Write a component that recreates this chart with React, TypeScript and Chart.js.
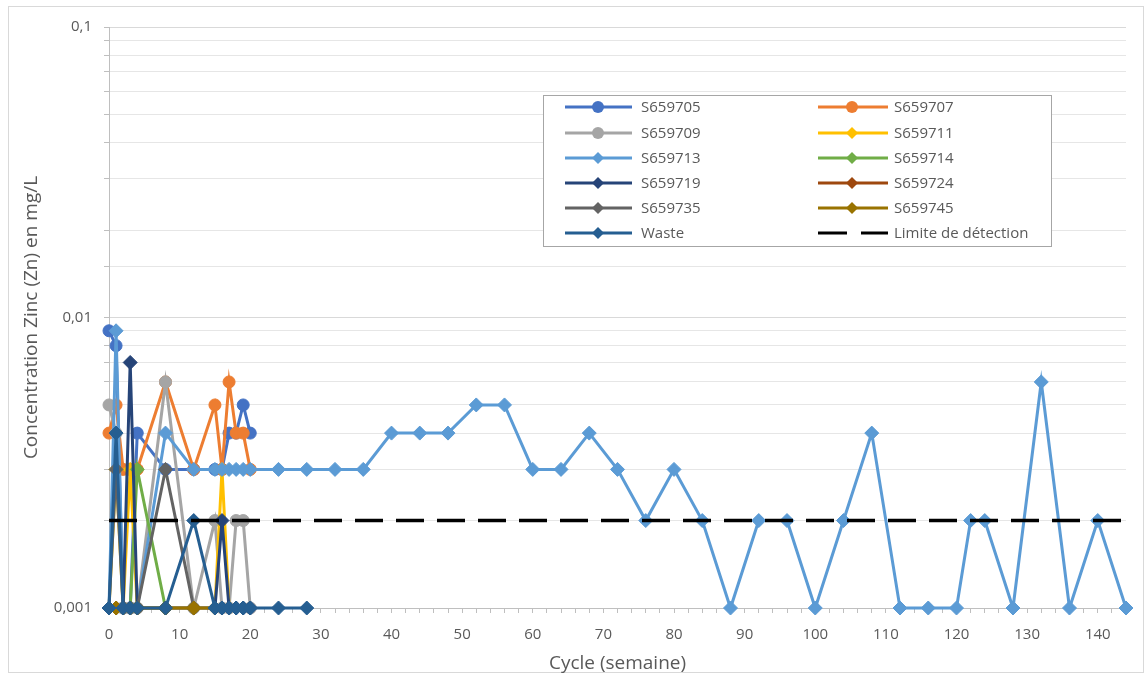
import React, { useEffect, useRef } from 'react';
import { Chart, registerables } from 'chart.js';

Chart.register(...registerables);

// ---- Data (cycle in weeks, Zn concentration in mg/L) ----
const cycles_S659705 = [0, 1, 2, 3, 4, 8, 12, 15, 16, 17, 18, 19, 20];
const zn_S659705 = [0.009, 0.008, 0.001, 0.001, 0.004, 0.003, 0.003, 0.003, 0.003, 0.004, 0.004, 0.005, 0.004];

const cycles_S659707 = [0, 1, 2, 3, 4, 8, 12, 15, 16, 17, 18, 19, 20];
const zn_S659707 = [0.004, 0.005, 0.003, 0.003, 0.003, 0.006, 0.003, 0.005, 0.003, 0.006, 0.004, 0.004, 0.003];

const cycles_S659709 = [0, 1, 2, 3, 4, 8, 12, 15, 16, 17, 18, 19, 20];
const zn_S659709 = [0.005, 0.004, 0.001, 0.001, 0.001, 0.006, 0.001, 0.002, 0.001, 0.001, 0.002, 0.002, 0.001];

const cycles_S659711 = [0, 1, 2, 3, 4, 8, 12, 15, 16, 17];
const zn_S659711 = [0.001, 0.003, 0.001, 0.003, 0.001, 0.001, 0.001, 0.001, 0.003, 0.001];

const cycles_S659713 = [0, 1, 2, 3, 4, 8, 12, 15, 16, 17, 18, 19, 20, 24, 28, 32, 36, 40, 44, 48, 52, 56, 60, 64, 68, 72, 76, 80, 84, 88, 92, 96, 100, 104, 108, 112, 116, 120, 122, 124, 128, 132, 136, 140, 144];
const zn_S659713 = [0.001, 0.009, 0.001, 0.001, 0.001, 0.004, 0.003, 0.003, 0.003, 0.003, 0.003, 0.003, 0.003, 0.003, 0.003, 0.003, 0.003, 0.004, 0.004, 0.004, 0.005, 0.005, 0.003, 0.003, 0.004, 0.003, 0.002, 0.003, 0.002, 0.001, 0.002, 0.002, 0.001, 0.002, 0.004, 0.001, 0.001, 0.001, 0.002, 0.002, 0.001, 0.006, 0.001, 0.002, 0.001];

const cycles_S659714 = [0, 1, 2, 3, 4, 8];
const zn_S659714 = [0.001, 0.001, 0.001, 0.001, 0.003, 0.001];

const cycles_S659719 = [0, 1, 2, 3, 4, 8, 12, 15, 16, 17, 18, 19, 20];
const zn_S659719 = [0.001, 0.001, 0.001, 0.007, 0.001, 0.001, 0.001, 0.001, 0.002, 0.001, 0.001, 0.001, 0.001];

const cycles_S659724 = [0, 1, 2, 3, 4];
const zn_S659724 = [0.001, 0.001, 0.001, 0.001, 0.001];

const cycles_S659735 = [0, 1, 2, 3, 4, 8, 12];
const zn_S659735 = [0.001, 0.003, 0.001, 0.001, 0.001, 0.003, 0.001];

const cycles_S659745 = [0, 1, 2, 3, 4, 8, 12, 15, 16];
const zn_S659745 = [0.001, 0.001, 0.001, 0.001, 0.001, 0.001, 0.001, 0.001, 0.001];

const cycles_Waste = [0, 1, 2, 3, 4, 8, 12, 15, 16, 17, 18, 19, 20, 24, 28];
const zn_Waste = [0.001, 0.004, 0.001, 0.001, 0.001, 0.001, 0.002, 0.001, 0.001, 0.001, 0.001, 0.001, 0.001, 0.001, 0.001];

const cycles_Limite = [0, 144];
const zn_Limite = [0.002, 0.002];

const yTickLabels: Record<string, string> = { '-3': '0,001', '-2': '0,01', '-1': '0,1' };

type SeriesDef = { name: string; xs: number[]; ys: number[]; color: string; marker: 'circle' | 'rectRot' | 'none'; dashed?: boolean };

const series: SeriesDef[] = [
  { name: 'S659705', xs: cycles_S659705, ys: zn_S659705, color: '#4472C4', marker: 'circle' },
  { name: 'S659707', xs: cycles_S659707, ys: zn_S659707, color: '#ED7D31', marker: 'circle' },
  { name: 'S659709', xs: cycles_S659709, ys: zn_S659709, color: '#A5A5A5', marker: 'circle' },
  { name: 'S659711', xs: cycles_S659711, ys: zn_S659711, color: '#FFC000', marker: 'rectRot' },
  { name: 'S659713', xs: cycles_S659713, ys: zn_S659713, color: '#5B9BD5', marker: 'rectRot' },
  { name: 'S659714', xs: cycles_S659714, ys: zn_S659714, color: '#70AD47', marker: 'rectRot' },
  { name: 'S659719', xs: cycles_S659719, ys: zn_S659719, color: '#264478', marker: 'rectRot' },
  { name: 'S659724', xs: cycles_S659724, ys: zn_S659724, color: '#9E480E', marker: 'rectRot' },
  { name: 'S659735', xs: cycles_S659735, ys: zn_S659735, color: '#636363', marker: 'rectRot' },
  { name: 'S659745', xs: cycles_S659745, ys: zn_S659745, color: '#997300', marker: 'rectRot' },
  { name: 'Waste', xs: cycles_Waste, ys: zn_Waste, color: '#255E91', marker: 'rectRot' },
  { name: 'Limite de détection', xs: cycles_Limite, ys: zn_Limite, color: '#000000', marker: 'none', dashed: true },
];

const FONT = '"Open Sans", "Noto Sans", sans-serif';
const TEXT_COLOR = '#595959';

function drawMarker(ctx: CanvasRenderingContext2D, kind: string, x: number, y: number, color: string) {
  ctx.save();
  ctx.fillStyle = color;
  ctx.beginPath();
  if (kind === 'circle') {
    ctx.arc(x, y, 6, 0, Math.PI * 2);
  } else if (kind === 'rectRot') {
    const r = 6;
    ctx.moveTo(x, y - r);
    ctx.lineTo(x + r, y);
    ctx.lineTo(x, y + r);
    ctx.lineTo(x - r, y);
    ctx.closePath();
  }
  ctx.fill();
  ctx.restore();
}

const legendPlugin = {
  id: 'boxLegend',
  afterDraw(chart: any) {
    const ctx: CanvasRenderingContext2D = chart.ctx;
    const bx = 543, by = 95, bw = 508, bh = 151;
    ctx.save();
    ctx.fillStyle = '#FFFFFF';
    ctx.fillRect(bx, by, bw, bh);
    ctx.strokeStyle = '#A6A6A6';
    ctx.lineWidth = 1;
    ctx.strokeRect(bx + 0.5, by + 0.5, bw, bh);
    const rowY = [107, 133, 158, 183, 208, 233];
    const cols = [
      { l0: 565, l1: 632, m: 598, t: 641 },
      { l0: 818, l1: 888, m: 852, t: 894 },
    ];
    series.forEach((s, i) => {
      const c = cols[i % 2];
      const y = rowY[Math.floor(i / 2)];
      ctx.strokeStyle = s.color;
      ctx.lineWidth = 3;
      ctx.beginPath();
      ctx.setLineDash(s.dashed ? [29, 14] : []);
      ctx.moveTo(c.l0, y);
      ctx.lineTo(c.l1, y);
      ctx.stroke();
      ctx.setLineDash([]);
      if (s.marker !== 'none') drawMarker(ctx, s.marker, c.m, y, s.color);
      ctx.fillStyle = TEXT_COLOR;
      ctx.font = `15px ${FONT}`;
      ctx.textBaseline = 'middle';
      ctx.textAlign = 'left';
      ctx.fillText(s.name, c.t, y + 1);
    });
    ctx.restore();
  },
  beforeDraw(chart: any) {
    const ctx: CanvasRenderingContext2D = chart.ctx;
    ctx.save();
    ctx.fillStyle = '#FFFFFF';
    ctx.fillRect(0, 0, chart.width, chart.height);
    ctx.strokeStyle = '#D9D9D9';
    ctx.lineWidth = 1;
    ctx.strokeRect(8.5, 6.5, 1135, 666);
    ctx.restore();
  },
};

function isMajor(v: number) {
  const l = Math.log10(v);
  return Math.abs(l - Math.round(l)) < 1e-9;
}

export default function App() {
  const canvasRef = useRef<HTMLCanvasElement | null>(null);

  useEffect(() => {
    const canvas = canvasRef.current;
    if (!canvas) return;
    const n = series.length;
    const datasets = series.map((s, i) => ({
      label: s.name,
      data: s.xs.map((x, j) => ({ x, y: s.ys[j] })),
      borderColor: s.color,
      backgroundColor: s.color,
      borderWidth: s.dashed ? 3.5 : 3,
      borderDash: s.dashed ? [28, 13] : [],
      pointStyle: s.marker === 'none' ? false : s.marker,
      pointRadius: s.marker === 'none' ? 0 : s.marker === 'circle' ? 6 : 7,
      pointBorderWidth: 1,
      pointBorderColor: s.color,
      pointBackgroundColor: s.color,
      tension: 0,
      fill: false,
      clip: 10,
      order: n - i,
    }));

    const chart = new Chart(canvas, {
      type: 'line',
      data: { datasets } as any,
      plugins: [legendPlugin],
      options: {
        animation: false,
        responsive: false,
        devicePixelRatio: 1,
        layout: { padding: { left: 0, top: 27, right: 19, bottom: 0 } },
        plugins: {
          legend: { display: false },
          tooltip: { enabled: false },
        },
        scales: {
          x: {
            type: 'linear',
            min: 0,
            max: 144,
            afterFit: (s: any) => { s.height = 71; },
            ticks: {
              stepSize: 2,
              autoSkip: false,
              maxRotation: 0,
              color: TEXT_COLOR,
              font: { family: FONT, size: 15 },
              padding: 13,
              callback: (v: any) => (Number(v) % 10 === 0 ? String(v) : ''),
            },
            grid: { drawOnChartArea: false, drawTicks: true, tickLength: 5, color: '#BFBFBF' },
            border: { color: '#BFBFBF', width: 1 },
            title: {
              display: true,
              text: 'Cycle (semaine)',
              color: TEXT_COLOR,
              font: { family: FONT, size: 19 },
              padding: { top: 0, bottom: 4 },
            },
          },
          y: {
            type: 'logarithmic',
            min: 0.001,
            max: 0.1,
            afterFit: (s: any) => { s.width = 109; },
            ticks: {
              autoSkip: false,
              color: TEXT_COLOR,
              font: { family: FONT, size: 15 },
              padding: 12,
              callback: (v: any) => {
                const num = Number(v);
                if (!isMajor(num)) return '';
                return yTickLabels[String(Math.round(Math.log10(num)))] ?? '';
              },
            },
            grid: {
              drawTicks: true,
              tickLength: 5,
              color: (c: any) => (c.tick && isMajor(c.tick.value) ? '#D9D9D9' : '#E6E6E6'),
              tickColor: '#BFBFBF',
            },
            border: { color: '#BFBFBF', width: 1 },
            title: {
              display: true,
              text: 'Concentration Zinc (Zn) en mg/L',
              color: TEXT_COLOR,
              font: { family: FONT, size: 19 },
              padding: { top: 20, bottom: 0 },
            },
          },
        },
      } as any,
    });
    return () => chart.destroy();
  }, []);

  return (
    <div style={{ position: 'fixed', left: 0, top: 0, width: 1145, height: 679, background: '#fff' }}>
      <canvas ref={canvasRef} width={1145} height={679} style={{ width: 1145, height: 679, display: 'block' }} />
    </div>
  );
}
